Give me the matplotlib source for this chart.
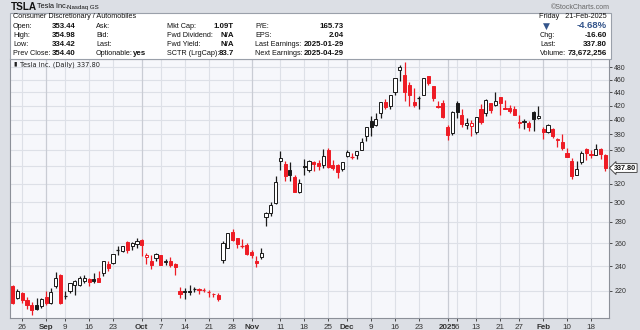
import matplotlib
matplotlib.use("Agg")
import matplotlib.pyplot as plt
from matplotlib.patches import Rectangle
from matplotlib.transforms import blended_transform_factory
from matplotlib.ticker import NullLocator, FixedLocator, FixedFormatter

# ---------------- data ----------------
dates = ["2024-08-22","2024-08-23","2024-08-26","2024-08-27","2024-08-28","2024-08-29","2024-08-30",
         "2024-09-03","2024-09-04","2024-09-05","2024-09-06","2024-09-09","2024-09-10","2024-09-11",
         "2024-09-12","2024-09-13","2024-09-16","2024-09-17","2024-09-18","2024-09-19","2024-09-20",
         "2024-09-23","2024-09-24","2024-09-25","2024-09-26","2024-09-27","2024-09-30",
         "2024-10-01","2024-10-02","2024-10-03","2024-10-04","2024-10-07","2024-10-08","2024-10-09",
         "2024-10-10","2024-10-11","2024-10-14","2024-10-15","2024-10-16","2024-10-17","2024-10-18",
         "2024-10-21","2024-10-22","2024-10-23","2024-10-24","2024-10-25","2024-10-28","2024-10-29",
         "2024-10-30","2024-10-31",
         "2024-11-01","2024-11-04","2024-11-05","2024-11-06","2024-11-07","2024-11-08","2024-11-11",
         "2024-11-12","2024-11-13","2024-11-14","2024-11-15","2024-11-18","2024-11-19","2024-11-20",
         "2024-11-21","2024-11-22","2024-11-25","2024-11-26","2024-11-27","2024-11-29",
         "2024-12-02","2024-12-03","2024-12-04","2024-12-05","2024-12-06","2024-12-09","2024-12-10",
         "2024-12-11","2024-12-12","2024-12-13","2024-12-16","2024-12-17","2024-12-18","2024-12-19",
         "2024-12-20","2024-12-23","2024-12-24","2024-12-26","2024-12-27","2024-12-30","2024-12-31",
         "2025-01-02","2025-01-03","2025-01-06","2025-01-07","2025-01-08","2025-01-10","2025-01-13",
         "2025-01-14","2025-01-15","2025-01-16","2025-01-17","2025-01-21","2025-01-22","2025-01-23",
         "2025-01-24","2025-01-27","2025-01-28","2025-01-29","2025-01-30","2025-01-31",
         "2025-02-03","2025-02-04","2025-02-05","2025-02-06","2025-02-07","2025-02-10","2025-02-11",
         "2025-02-12","2025-02-13","2025-02-14","2025-02-18","2025-02-19","2025-02-20","2025-02-21"]

opens = [223.82,214.46,218.75,213.25,209.72,209.80,208.63,
         215.26,210.59,223.49,232.60,216.20,220.07,224.55,
         224.66,228.00,229.30,229.45,230.09,234.00,241.52,
         242.61,254.08,252.54,260.60,257.38,259.04,
         262.67,247.55,244.48,246.69,249.00,243.56,243.82,
         241.81,220.13,220.13,220.01,221.40,221.59,220.71,
         218.90,217.31,217.13,244.68,256.01,270.00,264.51,
         258.04,257.99,
         252.04,244.56,247.34,284.67,288.89,299.14,346.30,
         342.74,335.85,327.69,310.57,340.73,335.50,345.00,
         343.81,341.09,360.14,341.00,341.80,336.08,
         352.38,351.80,353.00,359.87,377.42,397.61,392.68,
         409.70,424.84,420.00,441.09,475.90,466.50,451.88,
         425.51,431.00,435.90,465.16,449.52,419.40,423.79,
         390.10,381.48,423.20,405.83,392.95,391.40,383.21,
         414.34,409.90,423.49,421.50,432.64,416.81,416.06,
         414.45,394.80,396.91,395.21,410.78,401.53,
         386.68,382.63,387.51,373.03,370.19,356.21,345.80,
         329.94,345.00,360.62,355.01,354.00,361.51,353.44]

highs = [224.80,221.48,219.09,215.66,211.84,214.89,214.57,
         219.90,222.22,235.00,233.60,219.87,226.40,228.47,
         231.45,232.67,229.96,234.57,235.68,244.24,243.99,
         250.00,257.19,257.05,261.75,260.70,264.86,
         263.98,251.16,249.79,250.96,249.83,246.21,247.43,
         242.79,223.34,221.91,224.26,222.82,222.08,222.28,
         220.48,218.22,218.72,262.12,269.49,273.54,264.98,
         263.35,259.75,
         254.00,248.90,255.28,289.59,299.75,328.71,358.64,
         345.84,344.60,329.98,324.68,348.55,347.38,346.60,
         347.99,361.53,361.93,346.96,342.55,345.45,
         360.00,355.69,358.10,375.43,389.49,404.80,409.73,
         424.88,429.30,436.30,463.19,483.99,488.54,456.36,
         447.08,434.51,462.78,465.33,450.00,427.00,427.93,
         392.73,411.88,426.43,414.33,402.50,399.28,403.79,
         422.64,429.80,424.00,439.74,433.20,428.00,420.73,
         418.88,406.69,400.59,398.59,412.50,419.99,
         389.17,394.00,388.39,375.40,380.55,362.70,349.37,
         346.40,358.69,362.00,359.10,367.34,362.30,354.98]

lows = [210.32,214.21,211.01,206.94,202.59,205.97,207.03,
        209.64,210.57,222.25,210.51,213.67,218.64,216.80,
        223.83,226.32,223.53,226.55,226.88,232.13,235.92,
        241.92,249.05,252.28,251.53,254.12,255.77,
        248.53,241.50,237.81,244.58,240.70,240.56,239.51,
        232.34,214.38,213.74,217.12,218.93,217.90,219.23,
        215.73,215.26,212.11,242.65,255.32,262.24,255.51,
        255.82,249.25,
        246.63,238.88,246.21,275.62,285.52,297.66,336.00,
        323.31,322.50,310.37,309.22,330.01,332.75,334.30,
        335.28,337.70,338.20,335.66,326.59,334.65,
        351.15,348.20,348.60,359.50,370.80,378.01,390.85,
        402.38,415.00,415.71,436.15,457.51,427.01,420.02,
        417.64,415.41,435.14,451.10,426.50,415.75,402.54,
        373.04,379.45,401.70,390.00,387.40,377.29,380.07,
        394.54,405.66,409.13,419.75,406.31,414.59,408.95,
        405.78,389.00,386.50,384.48,384.41,401.34,
        374.36,381.40,375.53,363.18,360.34,350.51,325.10,
        329.12,342.85,347.50,350.02,353.67,348.00,334.42]

closes = [210.66,220.32,213.21,209.21,205.75,206.28,214.11,
          210.60,219.41,230.17,210.73,216.27,226.17,228.13,
          229.81,230.29,226.78,227.87,227.20,243.92,238.25,
          250.00,254.27,257.02,254.22,260.46,261.63,
          258.02,249.02,240.66,250.08,240.83,244.50,241.05,
          238.77,217.80,219.16,219.57,221.33,220.89,220.70,
          218.85,217.97,213.65,260.48,269.19,262.51,259.52,
          257.55,249.85,
          248.98,242.84,251.44,288.53,296.91,321.22,350.00,
          328.49,330.24,311.18,320.72,338.74,346.00,342.03,
          339.64,352.56,338.59,338.23,332.89,345.16,
          357.09,351.42,357.93,369.49,389.22,389.79,400.99,
          424.77,418.10,436.23,463.02,479.86,440.13,436.17,
          421.06,430.60,462.28,454.13,431.66,417.41,403.84,
          379.28,410.44,411.05,394.36,394.94,394.74,403.31,
          396.36,428.22,413.82,426.50,424.07,415.11,412.38,
          406.58,397.15,398.09,389.10,400.28,404.60,
          383.68,392.21,378.17,374.32,361.62,350.73,328.50,
          336.51,355.94,355.84,354.11,360.56,354.40,337.80]

prior_close = 223.27

tick_dates = ["2024-08-26","2024-09-03","2024-09-09","2024-09-16","2024-09-23","2024-10-01",
              "2024-10-07","2024-10-14","2024-10-21","2024-10-28","2024-11-01","2024-11-11",
              "2024-11-18","2024-11-25","2024-12-02","2024-12-09","2024-12-16","2024-12-23",
              "2025-01-02","2025-01-06","2025-01-13","2025-01-21","2025-01-27","2025-02-03",
              "2025-02-10","2025-02-18"]
tick_labels = ["26","Sep","9","16","23","Oct","7","14","21","28","Nov","11","18","25",
               "Dec","9","16","23","2025","6","13","21","27","Feb","10","18"]
month_labels = {"Sep","Oct","Nov","Dec","2025","Feb"}

price_ticks = [220,240,260,280,300,320,340,360,380,400,420,440,460,480]
# the 340 label sits under the last-price tag in the reference
price_tick_labels = ["220","240","260","280","300","320","","360","380","400","420","440","460","480"]

# ---------------- figure ----------------
W, H = 640, 330
FONT = "Liberation Sans"
LAB = 5.2
VAL = 5.7
fig = plt.figure(figsize=(W/100, H/100), dpi=100)
fig.patch.set_facecolor("#dcdfe5")

def T(x, y, s, **kw):
    kw.setdefault("family", FONT)
    kw.setdefault("va", "center")
    kw.setdefault("fontsize", LAB)
    kw.setdefault("color", "#111111")
    fig.text(x/W, 1-y/H, s, **kw)

# info box
fig.patches.append(Rectangle((10/W, 1-59/H), 601/W, 46.5/H, transform=fig.transFigure,
                             facecolor="white", edgecolor="#9aa0aa", lw=0.8, zorder=0))

T(11, 6.5, "TSLA", fontsize=7.2, weight="bold")
T(37, 6.5, "Tesla Inc.", fontsize=5.3)
T(67, 7, "Nasdaq GS", fontsize=4.4)
T(610, 7.3, "\u00a9StockCharts.com", fontsize=5.0, ha="right", color="#666666")

rows = [26, 35.3, 44.3, 53.7]
T(13, 16.7, "Consumer Discretionary / Automobiles")
T(607, 16.7, "Friday   21-Feb-2025", ha="right")

labels1 = ["Open:", "High:", "Low:", "Prev Close:"]
vals1 = ["353.44", "354.98", "334.42", "354.40"]
labels2 = ["Ask:", "Bid:", "Last:", "Optionable:"]
labels3 = ["Mkt Cap:", "Fwd Dividend:", "Fwd Yield:", "SCTR (LrgCap):"]
vals3 = ["1.09T", "N/A", "N/A", "83.7"]
labels4 = ["P/E:", "EPS:", "Last Earnings:", "Next Earnings:"]
vals4 = ["165.73", "2.04", "2025-01-29", "2025-04-29"]
for r, l1, v1, l2, l3, v3, l4, v4 in zip(rows, labels1, vals1, labels2, labels3, vals3, labels4, vals4):
    T(13, r, l1)
    T(75.5, r, v1, ha="right", weight="bold", fontsize=VAL)
    T(96, r, l2)
    T(167, r, l3)
    T(234, r, v3, ha="right", weight="bold", fontsize=VAL)
    T(255, r, l4)
    T(344, r, v4, ha="right", weight="bold", fontsize=VAL)
T(132.5, rows[3], "yes", weight="bold", fontsize=VAL)

T(546, rows[0], "\u25bc", ha="center", color="#34558b", fontsize=6.5, family="DejaVu Sans")
T(607, rows[0], "-4.68%", ha="right", weight="bold", color="#34558b", fontsize=6.8)
T(540, rows[1], "Chg:")
T(607, rows[1], "-16.60", ha="right", weight="bold", fontsize=VAL)
T(540, rows[2], "Last:")
T(607, rows[2], "337.80", ha="right", weight="bold", fontsize=VAL)
T(540, rows[3], "Volume:")
T(607, rows[3], "73,672,256", ha="right", weight="bold", fontsize=VAL)

# ---------------- price axes ----------------
left_px, right_px, top_px, bot_px = 10, 609.3, 59, 318
ax = fig.add_axes([left_px/W, 1-bot_px/H, (right_px-left_px)/W, (bot_px-top_px)/H])
ax.set_facecolor("#f6f7fb")
ax.set_yscale("log")
ax.set_ylim(200.2, 494.1)
ax.set_xlim(-0.56, 124.84)

x = list(range(len(dates)))
tick_pos = [dates.index(d) for d in tick_dates]

# grid
for p in price_ticks:
    ax.axhline(p, color="#dde0e7", lw=0.8, zorder=0)
for pos, lab in zip(tick_pos, tick_labels):
    c = "#c9ccd4" if lab in month_labels else "#dde0e7"
    ax.axvline(pos, color=c, lw=0.9 if lab in month_labels else 0.8, zorder=0)

RED = "#ee1c25"
BLACK = "#1a1a1a"
body_w = 0.66
prev = prior_close
for i in x:
    o, h, l, c = opens[i], highs[i], lows[i], closes[i]
    col = RED if c < prev else BLACK
    hollow = c >= o
    ax.vlines(i, l, h, color=col, lw=0.9, zorder=2)
    lo, hi = min(o, c), max(o, c)
    if hi / lo < 1.002:
        ax.hlines((o + c) / 2, i - body_w/2, i + body_w/2, color=col, lw=0.9, zorder=3)
    else:
        ax.add_patch(Rectangle((i - body_w/2, lo), body_w, hi - lo,
                               facecolor="white" if hollow else col,
                               edgecolor=col, lw=0.7, zorder=3))
    prev = c

# axes styling
for s in ax.spines.values():
    s.set_color("#8c9099")
    s.set_linewidth(0.8)
ax.yaxis.tick_right()
ax.yaxis.set_major_locator(FixedLocator(price_ticks))
ax.yaxis.set_major_formatter(FixedFormatter(price_tick_labels))
ax.yaxis.set_minor_locator(NullLocator())
ax.tick_params(axis="y", which="major", length=2, width=0.6, pad=1.5, labelsize=5,
               colors="#333333")
ax.set_xticks(tick_pos)
ax.set_xticklabels(tick_labels)
ax.tick_params(axis="x", length=2, width=0.6, pad=2.5, labelsize=5.8, colors="#333333")
for t in ax.get_xticklabels():
    t.set_family(FONT)
    if t.get_text() in month_labels:
        t.set_weight("bold")
for t in ax.get_yticklabels():
    t.set_family(FONT)

# legend text
ax.text(0.017, 0.992, "Tesla Inc. (Daily) 337.80", transform=ax.transAxes, va="top",
        ha="left", fontsize=4.8, family="DejaVu Sans", color="#222222")
ax.text(0.006, 0.992, "\u25ae", transform=ax.transAxes, va="top", ha="left",
        fontsize=4.5, family="DejaVu Sans", color="#222222")

# last price tag
tr = blended_transform_factory(ax.transAxes, ax.transData)
ax.text(1.008, closes[-1], f"{closes[-1]:.2f}", transform=tr, va="center", ha="left",
        fontsize=5.2, family=FONT, weight="bold", color="#111111", clip_on=False, zorder=10,
        bbox=dict(boxstyle="larrow,pad=0.12", facecolor="white", edgecolor="#333333", lw=0.6))

fig.savefig("out.png", dpi=100, facecolor=fig.get_facecolor())
